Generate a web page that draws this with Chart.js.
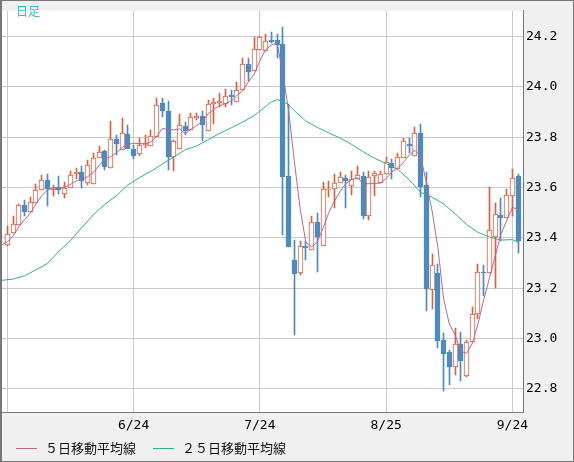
<!DOCTYPE html>
<html><head><meta charset="utf-8">
<script src="https://cdn.jsdelivr.net/npm/chart.js@4.4.1/dist/chart.umd.min.js"></script>
<style>html,body{margin:0;padding:0;background:#f0f0f0;}canvas{display:block}</style>
</head><body>
<canvas id="c" width="574" height="462" style="width:574px;height:462px"></canvas>
<script>
// ---- data ----
const chartTitle = '日足';
const seriesNames = ['５日移動平均線', '２５日移動平均線'];
const tickIdx = [0, 22, 44, 66, 88];
const dateLabels = ['', '6/24', '7/24', '8/25', '9/24'];
const priceTicks = [22.8, 23.0, 23.2, 23.4, 23.6, 23.8, 24.0, 24.2];

const opens = [23.373,23.418,23.450,23.531,23.502,23.537,23.591,23.631,23.591,23.602,
23.576,23.599,23.653,23.662,23.616,23.615,23.718,23.744,23.679,23.793,
23.750,23.812,23.754,23.733,23.770,23.766,23.799,23.934,23.905,23.722,
23.753,23.845,23.828,23.877,23.883,23.824,23.931,23.935,23.931,23.966,
23.940,23.987,24.089,24.063,24.148,24.144,24.186,24.186,24.170,23.647,
23.311,23.262,23.367,23.353,23.464,23.369,23.591,23.595,23.619,23.638,
23.605,23.634,23.647,23.485,23.644,23.619,23.653,23.698,23.675,23.718,
23.772,23.724,23.817,23.608,23.192,23.259,22.995,22.945,22.885,22.979,
22.852,22.985,23.098,23.266,23.259,23.404,23.492,23.479,23.567,23.644];
const highs = [23.447,23.485,23.533,23.550,23.563,23.615,23.651,23.653,23.608,23.647,
23.621,23.666,23.679,23.686,23.708,23.737,23.763,23.748,23.863,23.809,
23.876,23.848,23.770,23.795,23.809,23.830,23.954,23.957,23.944,23.790,
23.890,23.860,23.895,23.895,23.903,23.948,23.954,23.976,23.992,23.989,
24.019,24.115,24.115,24.196,24.200,24.209,24.216,24.209,24.237,23.931,
23.391,23.388,23.388,23.488,23.499,23.621,23.624,23.653,23.660,23.650,
23.666,23.686,23.662,23.666,23.666,23.666,23.721,23.714,23.737,23.798,
23.798,23.841,23.851,23.660,23.337,23.298,23.020,22.956,23.040,23.027,
22.996,23.124,23.298,23.294,23.602,23.537,23.557,23.595,23.673,23.653];
const lows = [23.368,23.418,23.450,23.488,23.502,23.537,23.589,23.528,23.567,23.573,
23.557,23.599,23.634,23.598,23.608,23.615,23.718,23.670,23.679,23.731,
23.750,23.752,23.714,23.724,23.757,23.766,23.799,23.879,23.670,23.666,
23.753,23.810,23.828,23.868,23.783,23.824,23.853,23.921,23.918,23.929,
23.940,23.987,24.024,24.063,24.148,24.144,24.174,24.115,23.410,23.365,
23.014,23.253,23.311,23.353,23.266,23.369,23.563,23.520,23.619,23.520,
23.569,23.634,23.476,23.470,23.567,23.619,23.653,23.634,23.675,23.718,
23.737,23.724,23.563,23.111,23.117,22.962,22.791,22.814,22.856,22.833,
22.846,22.985,23.079,23.169,23.259,23.201,23.388,23.479,23.485,23.340];
const closes = [23.414,23.453,23.531,23.501,23.541,23.589,23.631,23.595,23.599,23.591,
23.599,23.650,23.662,23.625,23.688,23.718,23.741,23.683,23.793,23.772,
23.815,23.753,23.727,23.770,23.776,23.805,23.929,23.905,23.722,23.783,
23.847,23.825,23.879,23.883,23.847,23.931,23.938,23.944,23.964,23.961,
23.987,24.089,24.060,24.151,24.196,24.183,24.179,24.166,23.640,23.365,
23.257,23.367,23.359,23.464,23.404,23.593,23.595,23.619,23.640,23.625,
23.634,23.650,23.485,23.640,23.657,23.653,23.701,23.679,23.721,23.786,
23.766,23.817,23.602,23.195,23.294,22.992,22.939,22.888,22.979,22.910,
22.985,23.098,23.266,23.262,23.430,23.495,23.479,23.569,23.638,23.388];

// 5-day MA line as read, starting one day before the first visible candle
const ma5Start = -1;
const ma5 = [23.372,23.383,23.407,23.443,23.472,23.498,23.535,23.567,23.591,23.598,
23.600,23.602,23.612,23.626,23.632,23.643,23.660,23.688,23.713,23.722,
23.737,23.759,23.771,23.776,23.774,23.774,23.781,23.802,23.834,23.831,
23.829,23.833,23.814,23.831,23.847,23.862,23.893,23.912,23.924,23.934,
23.943,23.965,23.984,24.019,24.050,24.104,24.147,24.166,24.174,24.054,
23.907,23.705,23.519,23.383,23.364,23.383,23.438,23.500,23.546,23.585,
23.616,23.631,23.639,23.615,23.615,23.616,23.618,23.635,23.662,23.678,
23.699,23.728,23.748,23.724,23.620,23.507,23.364,23.159,23.058,23.015,
22.949,22.941,22.980,23.058,23.155,23.240,23.329,23.414,23.469,23.521,23.513];

// 25-day MA line, read at these day positions
const ma25Idx = [-1,1,3,5,7,9,11,13,15,17,19,21,23,25,27,29,31,33,35,37,39,41,43,45,46,47,48,49,50,52,
54,56,58,60,62,64,66,68,70,72,74,76,78,80,82,84,86,88,89];
const ma25 = [23.231,23.236,23.249,23.273,23.298,23.347,23.389,23.441,23.492,23.533,
23.567,23.610,23.639,23.664,23.693,23.721,23.750,23.765,23.790,23.815,
23.837,23.860,23.885,23.922,23.940,23.949,23.943,23.928,23.905,23.864,
23.839,23.817,23.796,23.771,23.742,23.716,23.695,23.672,23.631,23.581,
23.562,23.535,23.496,23.453,23.422,23.403,23.391,23.393,23.382];

// ---- styles ----
const RED = '#d8613f', BLUE = '#4a8bc2', PINK = '#bb6691', GREEN = '#33b07a';
const GRID = '#c9c9c9', FRAME = '#777777';
const MONO = '"DejaVu Sans Mono", monospace';
const CJK = '"Noto Sans CJK JP", sans-serif';

const idx = opens.map((_, i) => i);
const up = idx.map(i => closes[i] >= opens[i]);

// snap the library-computed bar geometry onto whole pixels for crisp candles
const snapPlugin = {
  id: 'snap',
  beforeDatasetsDraw(chart) {
    chart.data.datasets.forEach((ds, di) => {
      if (ds.type !== 'bar') return;
      chart.getDatasetMeta(di).data.forEach(el => {
        el.x = Math.floor(el.x) + 0.5;
        el.y = Math.round(el.y);
        el.base = Math.round(el.base);
      });
    });
  }
};

const framePlugin = {
  id: 'frame',
  beforeDraw(chart) {
    const { ctx, chartArea: a, width, height } = chart;
    ctx.save();
    ctx.fillStyle = '#f0f0f0';
    ctx.fillRect(0, 0, width, height);
    ctx.fillStyle = '#ffffff';
    ctx.fillRect(a.left, a.top, a.right - a.left, a.bottom - a.top);
    ctx.restore();
  },
  afterDraw(chart) {
    const { ctx, width, height } = chart;
    ctx.save();
    ctx.fillStyle = FRAME;
    ctx.fillRect(0, 0, width, 1);
    ctx.fillRect(0, 0, 2, height);
    ctx.fillRect(width - 1, 0, 1, height);
    ctx.fillRect(0, height - 1, width, 1);
    // title
    ctx.font = '12px ' + CJK;
    ctx.fillStyle = '#3ab4e8';
    ctx.textBaseline = 'middle';
    ctx.textAlign = 'left';
    ctx.fillText(chartTitle, 16, 11);
    // legend
    ctx.font = '13px ' + CJK;
    ctx.fillStyle = '#111111';
    const ly = 448;
    const cols = [PINK, GREEN];
    let x = 16;
    seriesNames.forEach((name, k) => {
      ctx.strokeStyle = cols[k];
      ctx.lineWidth = 1;
      ctx.beginPath();
      ctx.moveTo(x, ly + 0.5);
      ctx.lineTo(x + 21, ly + 0.5);
      ctx.stroke();
      ctx.fillText(name, x + 29, ly);
      x = x + 29 + ctx.measureText(name).width + 17;
    });
    ctx.restore();
  }
};

new Chart(document.getElementById('c'), {
  type: 'bar',
  data: {
    datasets: [
      {
        type: 'line', label: seriesNames[0],
        data: ma5.map((v, k) => ({ x: k + ma5Start, y: v })),
        borderColor: PINK, borderWidth: 1, pointRadius: 0, tension: 0, order: 0
      },
      {
        type: 'line', label: seriesNames[1],
        data: ma25Idx.map((x, k) => ({ x: x, y: ma25[k] })),
        borderColor: GREEN, borderWidth: 1, pointRadius: 0, tension: 0, order: 1
      },
      {
        type: 'bar', label: 'body',
        data: idx.map(i => ({ x: i, y: [opens[i], closes[i]] })),
        backgroundColor: idx.map(i => up[i] ? '#ffffff' : BLUE),
        borderColor: idx.map(i => up[i] ? RED : BLUE),
        borderWidth: 1, borderSkipped: false, barThickness: 5, minBarLength: 1,
        grouped: false, order: 2
      },
      {
        type: 'bar', label: 'wick',
        data: idx.map(i => ({ x: i, y: [lows[i], highs[i]] })),
        backgroundColor: idx.map(i => up[i] ? RED : BLUE),
        borderWidth: 0, barThickness: 1, grouped: false, order: 3
      }
    ]
  },
  options: {
    responsive: false,
    animation: false,
    devicePixelRatio: 1,
    layout: { padding: { left: 2, top: 1, right: 0, bottom: 0 } },
    plugins: { legend: { display: false }, tooltip: { enabled: false } },
    scales: {
      x: {
        type: 'linear', min: -0.923, max: 89.84, offset: false,
        grid: { color: GRID, drawTicks: false, offset: false },
        border: { display: true, color: FRAME },
        afterBuildTicks: s => { s.ticks = tickIdx.map(v => ({ value: v })); },
        afterFit: s => { s.height = 50; },
        ticks: {
          autoSkip: false, maxRotation: 0, padding: 6, color: '#000',
          font: { family: MONO, size: 13 },
          callback: v => { const k = tickIdx.indexOf(v); return k >= 0 ? dateLabels[k] : ''; }
        }
      },
      y: {
        type: 'linear', position: 'right', min: 22.708, max: 24.302,
        grid: { color: GRID, drawTicks: false },
        border: { display: true, color: FRAME },
        afterBuildTicks: s => { s.ticks = priceTicks.map(v => ({ value: v })); },
        afterFit: s => { s.width = 51; },
        ticks: {
          padding: 3, color: '#000',
          font: { family: MONO, size: 13 },
          callback: v => Number(v).toFixed(1)
        }
      }
    }
  },
  plugins: [snapPlugin, framePlugin]
});
</script>
</body></html>
